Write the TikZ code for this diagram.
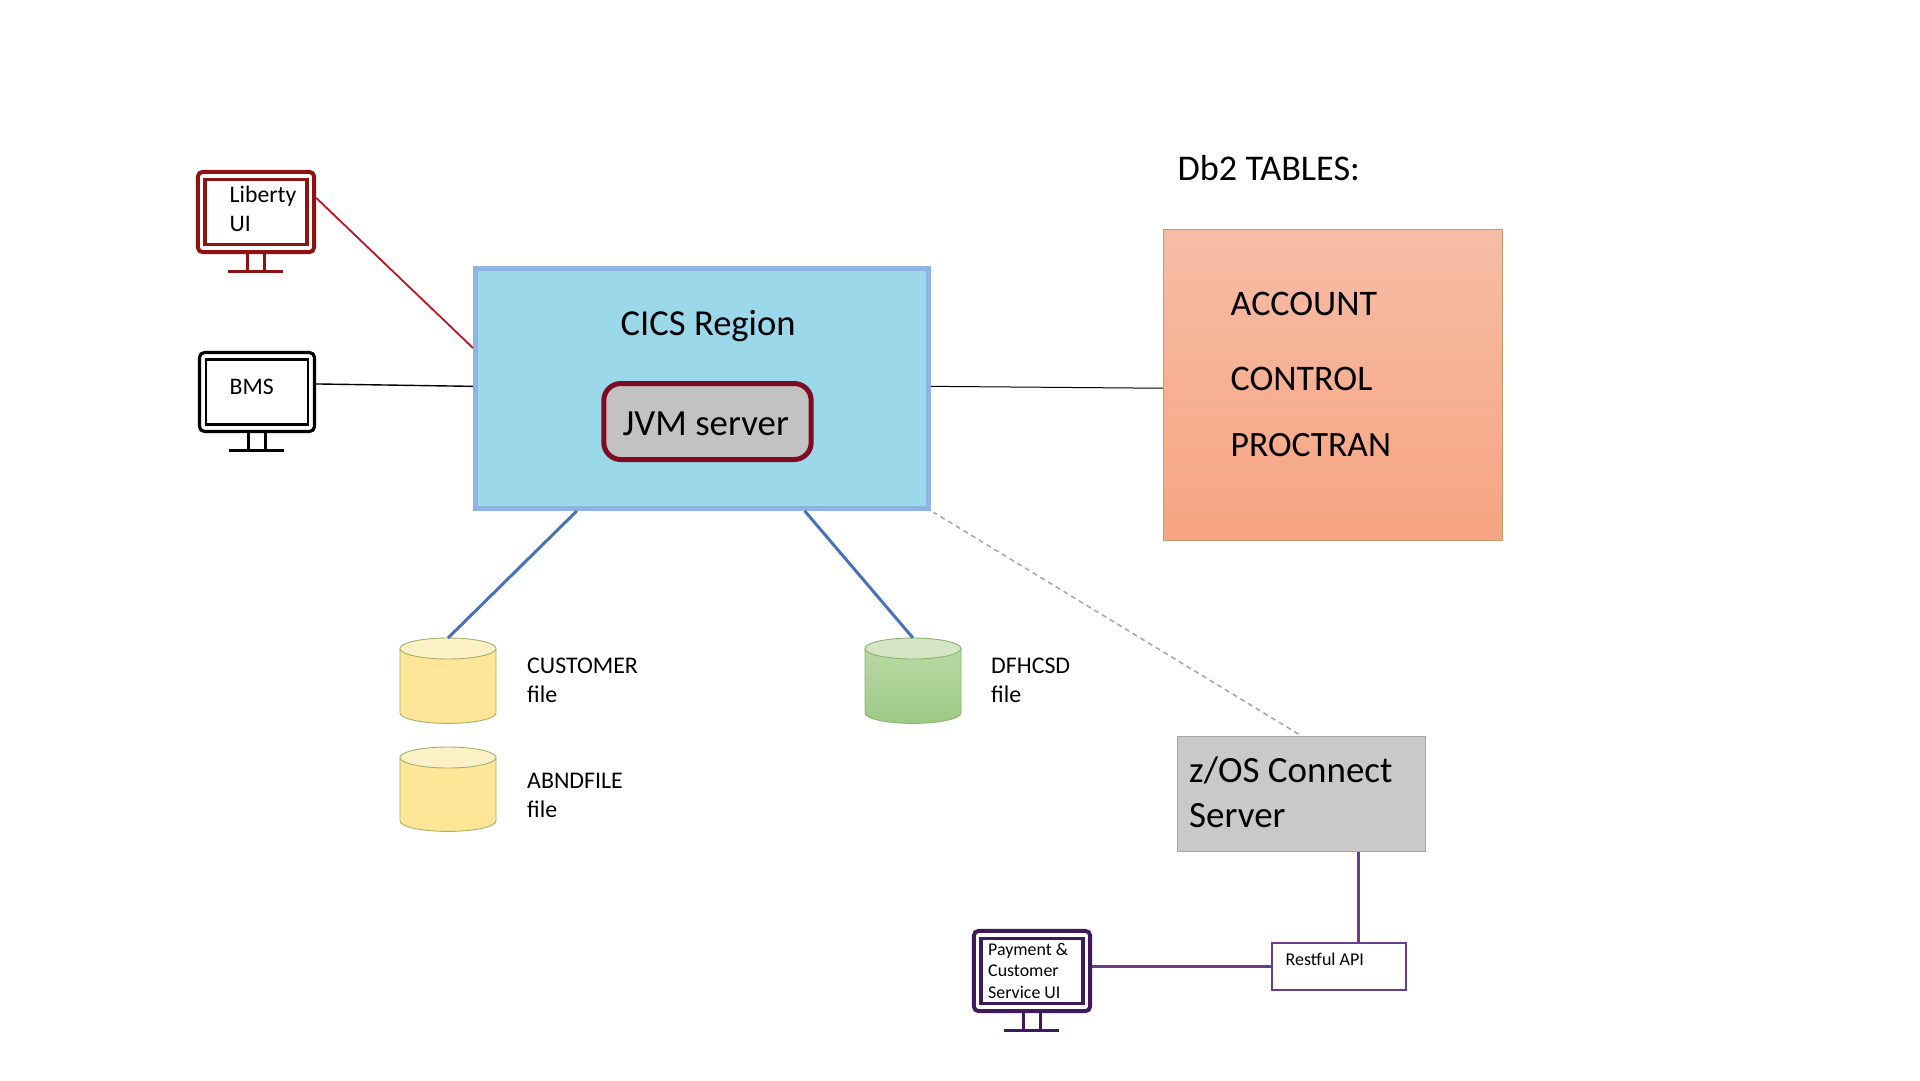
\documentclass[tikz,border=0pt]{standalone}
\usepackage{fontspec}
\setmainfont{Carlito}
\usetikzlibrary{calc}
\definecolor{libred}{HTML}{8E1414}
\definecolor{redline}{HTML}{BC1420}
\definecolor{purp}{HTML}{6A3D8C}
\definecolor{darkpurp}{HTML}{3E1A5C}
\definecolor{cicsfill}{HTML}{9AD8EA}
\definecolor{cicsedge}{HTML}{8FB4E3}
\definecolor{jvmedge}{HTML}{7F0A24}
\definecolor{jvmfill}{HTML}{C2C2C2}
\definecolor{linkblue}{HTML}{4A72B8}
\definecolor{cylyellow}{HTML}{FEE598}
\definecolor{cylyellowtop}{HTML}{FBF0C6}
\definecolor{cylyellowedge}{HTML}{A3B26A}
\definecolor{cylgreenedge}{HTML}{8DB46E}
\definecolor{cylgreentop}{HTML}{D3E5C5}
\definecolor{cylgreenA}{HTML}{B9D9A5}
\definecolor{cylgreenB}{HTML}{9CC985}
\definecolor{dbedge}{HTML}{C69A6E}
\definecolor{dbtop}{HTML}{F6BDA6}
\definecolor{dbbot}{HTML}{F7A481}
\definecolor{zosfill}{HTML}{C9C9C9}
\definecolor{zosedge}{HTML}{A6A6A6}
\tikzset{
  x=1pt,y=-1pt,
  lbl/.style={anchor=base west,inner sep=0pt,align=left,text=black},
  sz/.style={font=\fontsize{#1}{#1}\selectfont},
  monbody/.style={draw=#1,rounded corners=5pt,fill=white,inner sep=0pt},
  monpart/.style={draw=#1},
  filebox/.style={inner sep=0pt,minimum width=96pt,anchor=north},
  wire/.style={line width=1.4pt,draw=black},
  purplewire/.style={line width=3pt,draw=purp},
  bluewire/.style={line width=3pt,draw=linkblue},
}
% name, cx, cy, body width, body height, colour, outer line, inner line
\newcommand{\monitor}[8]{%
  \node[monbody=#6,line width=#7pt,minimum width=#4pt,minimum height=#5pt] (#1) at (#2,#3) {};
  \draw[monpart=#6,line width=#8pt] ($(#1.center)+(-51,-32.5)$) rectangle ($(#1.center)+(51,32.5)$);
  \draw[monpart=#6,line width=3pt] ($(#1.south)+(-8.5,0)$) -- ++(0,17) ($(#1.south)+(8.5,0)$) -- ++(0,17)
        ($(#1.south)+(-28,17)$) -- ++(55,0);
}
% name, cx, top y, height, edge, top fill, body top, body bottom
\newcommand{\filecyl}[8]{%
  \node[filebox,minimum height=#4pt] (#1) at (#2,#3) {};
  \path[draw=#5,line width=0.9pt,top color=#7,bottom color=#8]
    ($(#1.north)+(-48,10.5)$) -- ($(#1.south)+(-48,-10.5)$)
    arc[start angle=180,end angle=360,x radius=48pt,y radius=10.5pt]
    -- ($(#1.north)+(48,10.5)$) -- cycle;
  \path[draw=#5,line width=0.9pt,fill=#6] ($(#1.north)+(0,10.5)$) ellipse[x radius=48pt,y radius=10.5pt];
}
\begin{document}
\begin{tikzpicture}
\useasboundingbox (0,0) rectangle (1920,1080);
\fill[white] (0,0) rectangle (1920,1080);

% monitors
\monitor{liberty}{256}{212}{116.4}{80.4}{libred}{4}{3.6}
\monitor{bms}{257}{392}{115}{79}{black}{3.2}{2.8}
\monitor{pay}{1032}{971}{116.4}{80.4}{darkpurp}{4}{3.6}
\node[lbl,sz=23.7] (libertytext) at (229.5,202.5) {Liberty};
\node[lbl,sz=23.7] (libertyui) at (229.5,231.5) {UI};
\node[lbl,sz=23.7] (bmstext) at (229.5,394.5) {BMS};
\node[lbl,sz=17.9] (paya) at (988,955) {Payment \&};
\node[lbl,sz=17.9] (payb) at (988,976.5) {Customer};
\node[lbl,sz=17.9] (payc) at (988,998) {Service UI};

% CICS region
\node[draw=cicsedge,fill=cicsfill,line width=4.6pt,inner sep=0pt,minimum width=453.4pt,minimum height=240.2pt] (cics) at (702,388.4) {};
\node[lbl,sz=36.6] (cicslabel) at (620.5,335) {CICS Region};
\node[draw=jvmedge,fill=jvmfill,line width=5pt,rounded corners=17pt,inner sep=0pt,minimum width=207.4pt,minimum height=76pt] (jvm) at (707.5,421.5) {};
\node[lbl,sz=36.9] (jvmlabel) at (622.5,435) {JVM server};

% Db2
\node[lbl,sz=36.2] (dbtitle) at (1177.5,180) {Db2 TABLES:};
\node[draw=dbedge,top color=dbtop,bottom color=dbbot,line width=1pt,inner sep=0pt,minimum width=339.4pt,minimum height=311pt] (db2) at (1333,384.8) {};
\node[lbl,sz=36] (acct) at (1230.5,315) {ACCOUNT};
\node[lbl,sz=36] (ctrl) at (1230.5,390) {CONTROL};
\node[lbl,sz=35.6] (proc) at (1230.5,456) {PROCTRAN};

% files
\filecyl{cust}{448}{638}{85}{cylyellowedge}{cylyellowtop}{cylyellow}{cylyellow}
\filecyl{abnd}{448}{747}{84}{cylyellowedge}{cylyellowtop}{cylyellow}{cylyellow}
\filecyl{csd}{913}{638}{85}{cylgreenedge}{cylgreentop}{cylgreenA}{cylgreenB}
\node[lbl,sz=23.9] (custa) at (527,673.5) {CUSTOMER};
\node[lbl,sz=23.9] (custb) at (527,702.5) {file};
\node[lbl,sz=23.9] (abnda) at (527,788.5) {ABNDFILE};
\node[lbl,sz=23.9] (abndb) at (527,817.5) {file};
\node[lbl,sz=23.9] (csda) at (991,673.5) {DFHCSD};
\node[lbl,sz=23.9] (csdb) at (991,702.5) {file};

% z/OS Connect and API
\node[draw=zosedge,fill=zosfill,line width=1.2pt,inner sep=0pt,minimum width=248pt,minimum height=115pt] (zos) at (1301.5,794) {};
\node[lbl,sz=37] (zosa) at (1189,782) {z/OS Connect};
\node[lbl,sz=37] (zosb) at (1189,827) {Server};
\node[draw=purp,fill=white,line width=2pt,inner sep=0pt,minimum width=134pt,minimum height=47pt] (rest) at (1338.7,966) {};
\node[lbl,sz=18] (resttext) at (1285.5,965) {Restful API};

% connectors
\coordinate (restTop) at ($(rest.north west)!.644!(rest.north east)$);
\draw[line width=1.8pt,draw=redline] ($(liberty.north east)!.333!(liberty.south east)$) -- ($(cics.north west)!.335!(cics.south west)$);
\draw[wire] ($(bms.north east)!.402!(bms.south east)$) -- ($(cics.north west)!.4916!(cics.south west)$);
\draw[line width=1pt,draw=black] ($(cics.north east)!.4916!(cics.south east)$) -- ($(db2.north west)!.511!(db2.south west)$);
\draw[bluewire] ($(cics.south west)!.227!(cics.south east)$) -- (cust.north);
\draw[bluewire] ($(cics.south west)!.724!(cics.south east)$) -- (csd.north);
\draw[line width=1.5pt,draw=zosedge,dash pattern=on 5pt off 4pt,dash phase=1pt,shorten <=3pt] (cics.south east) -- (zos.north);
\draw[purplewire] (restTop |- zos.south) -- (restTop);
\draw[purplewire] (pay.east |- rest.west) -- (rest.west);
\end{tikzpicture}
\end{document}
